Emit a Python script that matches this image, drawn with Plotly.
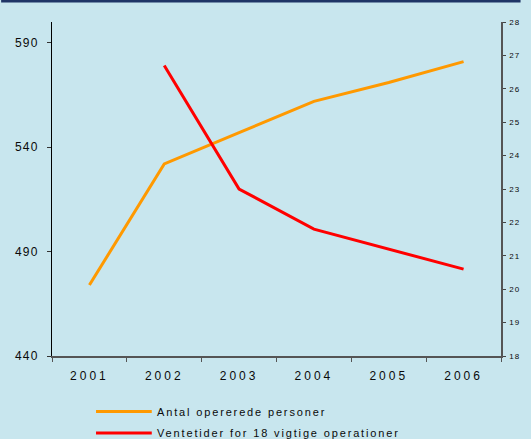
import plotly.graph_objects as go

# Data
years = ["2001", "2002", "2003", "2004", "2005", "2006"]
operated_persons = [474, 532, 547, 562, 571, 581]          # left axis
waiting_weeks = [None, 26.7, 23.0, 21.8, 21.2, 20.6]       # right axis
series_names = ["Antal opererede personer", "Ventetider for 18 vigtige operationer"]
series_colors = ["#FF9900", "#FF0000"]

BG = "#C8E6EE"
FONT = "Liberation Sans, Arial, sans-serif"
TEXT = "#0a0a0a"

W, H = 531, 439
L, R, T, B = 52, 20, 22, 83
plot_h = H - T - B

fig = go.Figure()
fig.add_trace(go.Scatter(x=years, y=operated_persons, mode="lines", name=series_names[0],
                         line=dict(color=series_colors[0], width=3), yaxis="y"))
fig.add_trace(go.Scatter(x=years, y=waiting_weeks, mode="lines", name=series_names[1],
                         line=dict(color=series_colors[1], width=3), yaxis="y2"))


def py(pix):
    """Pixel row in the figure -> paper y coordinate."""
    return (H - B - pix) / plot_h


def px(pix):
    return (pix - L) / (W - L - R)


shapes = [
    # dark strip across the very top
    dict(type="rect", xref="paper", yref="paper", x0=-L / (W - L - R), x1=1 + R / (W - L - R),
         y0=py(2.5), y1=py(0), fillcolor="#1F3566", line=dict(width=0), layer="above"),
]
annotations = []
# hand-drawn legend below the plot
for i, (name, col) in enumerate(zip(series_names, series_colors)):
    yy = py(411.5 + i * 21.5)
    shapes.append(dict(type="line", xref="paper", yref="paper", x0=px(97), x1=px(154),
                       y0=yy, y1=yy, line=dict(color=col, width=3)))
    annotations.append(dict(xref="paper", yref="paper", x=px(157), y=yy, text=name,
                            showarrow=False, xanchor="left", yanchor="middle", align="left",
                            font=dict(family=FONT, size=11, color=TEXT)))

fig.update_layout(
    width=W, height=H,
    margin=dict(l=L, r=R, t=T, b=B),
    paper_bgcolor=BG, plot_bgcolor=BG,
    showlegend=False,
    shapes=shapes, annotations=annotations,
    xaxis=dict(type="category", range=[-0.5, 5.5], showgrid=False, zeroline=False,
               showline=True, linecolor="#555555", linewidth=1.5,
               ticks="outside", tickson="boundaries", ticklen=4, tickcolor="#555555",
               tickfont=dict(family=FONT, size=12, color=TEXT), ticklabelstandoff=8),
    yaxis=dict(range=[440, 600], tick0=440, dtick=50, showgrid=False, zeroline=False,
               showline=True, linecolor="#000000", linewidth=1,
               ticks="outside", ticklen=4, tickcolor="#333333",
               tickfont=dict(family=FONT, size=12, color=TEXT), ticklabelstandoff=6),
    yaxis2=dict(range=[18, 28], tick0=18, dtick=1, overlaying="y", side="right",
                showgrid=False, zeroline=False, showline=True, linecolor="#555555", linewidth=1.5,
                ticks="outside", ticklen=3, tickcolor="#444444",
                tickfont=dict(family=FONT, size=8, color=TEXT), ticklabelstandoff=2),
    yaxis3=dict(range=[18, 28], tick0=18, dtick=1, overlaying="y", side="right",
                showgrid=False, zeroline=False, showline=False, showticklabels=False,
                ticks="inside", ticklen=3, tickcolor="#444444"),
)

spacing_css = """
var s = document.createElement('style');
s.textContent = '.xtick text{letter-spacing:3px}' +
                '.ytick text{letter-spacing:1.2px}' +
                '.y2tick text{letter-spacing:1px}' +
                '.annotation-text{letter-spacing:1.85px}';
document.head.appendChild(s);
"""

fig.write_html("out.html", post_script=spacing_css)
